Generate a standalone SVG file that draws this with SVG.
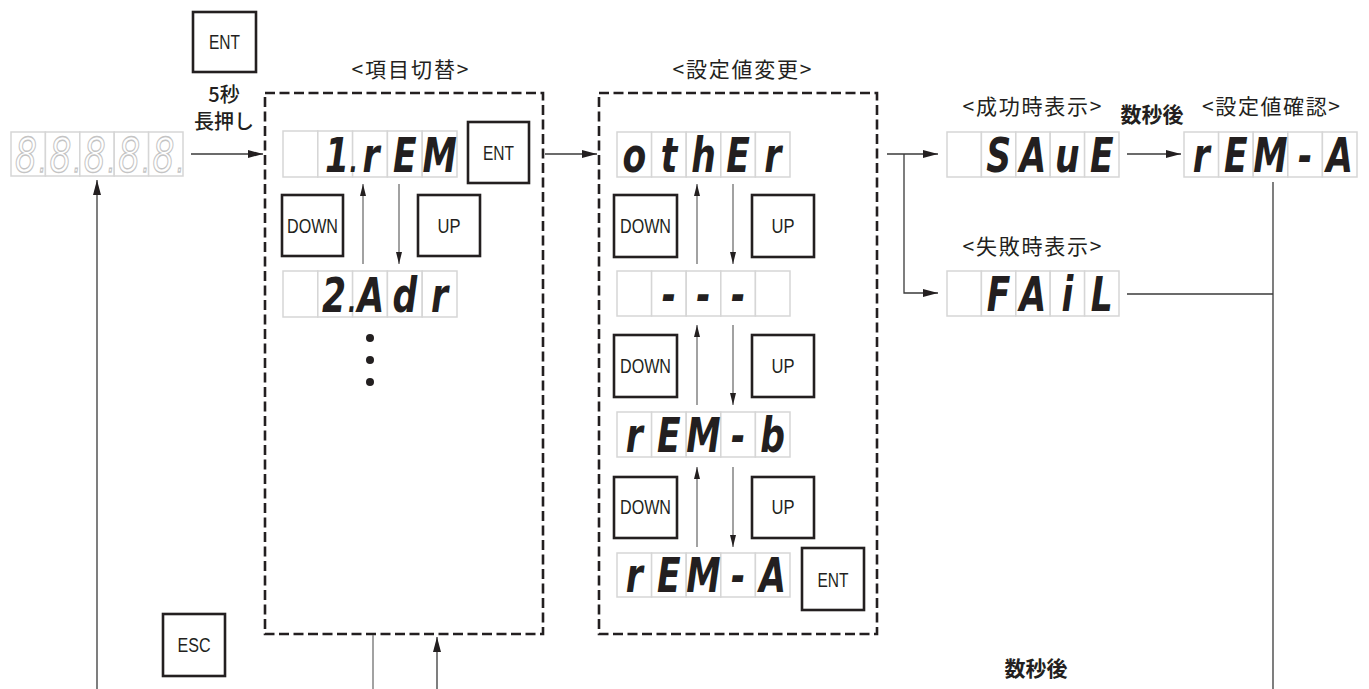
<svg xmlns="http://www.w3.org/2000/svg" width="1369" height="689" viewBox="0 0 1369 689">
<defs>
<style>
.cell{fill:#fff;stroke:#d6d6d6;stroke-width:1.5}
.seg{font-family:"DejaVu Sans",sans-serif;font-weight:bold;font-style:oblique;font-size:48px;fill:#231f20;text-anchor:middle}
.pt{font-size:30px}
.off{fill:#fff;stroke:#c4c4c4;stroke-width:1.3;font-weight:normal}
.key{fill:#fff;stroke:#231f20;stroke-width:2.6}
.kt{font-family:"Liberation Sans",Arial,sans-serif;font-size:20px;fill:#231f20;text-anchor:middle}
.jp{font-family:"Noto Sans CJK JP",sans-serif;font-size:21px;fill:#231f20;text-anchor:middle}
.jb{font-family:"Noto Sans CJK JP",sans-serif;font-size:21px;font-weight:bold;fill:#231f20;text-anchor:middle}
.frame{fill:none;stroke:#231f20;stroke-width:2.6;stroke-dasharray:10 4.5}
.ln{fill:none;stroke:#3a3a3a;stroke-width:1.3}
.gl{fill:none;stroke:#707070;stroke-width:1.3}
.dot{fill:#231f20}
</style>
<marker id="a" viewBox="0 0 15 8" markerWidth="15" markerHeight="8" refX="15" refY="4" orient="auto" markerUnits="userSpaceOnUse"><path d="M0,0L15,4L0,8z" fill="#231f20"/></marker>
<marker id="s" viewBox="0 0 12 6" markerWidth="12" markerHeight="6" refX="12" refY="3" orient="auto" markerUnits="userSpaceOnUse"><path d="M0,0L12,3L0,6z" fill="#231f20"/></marker>
</defs>
<rect width="1369" height="689" fill="#fff"/>

<!-- frames -->
<g id="frame-item">
<rect class="frame" x="265" y="93" width="278" height="541"/>
<text class="jp" x="410" y="77" textLength="117">&lt;項目切替&gt;</text>
</g>
<g id="frame-value">
<rect class="frame" x="599" y="93" width="278" height="541"/>
<text class="jp" x="742" y="77" textLength="139">&lt;設定値変更&gt;</text>
</g>

<!-- connectors -->
<g id="connectors">
<path class="ln" d="M191,154H263" marker-end="url(#a)"/>
<path class="ln" d="M545,154H597" marker-end="url(#a)"/>
<path class="ln" d="M887,154H938" marker-end="url(#a)"/>
<path class="ln" d="M904,154V293H938" marker-end="url(#a)"/>
<path class="ln" d="M1127,154H1181" marker-end="url(#a)"/>
<path class="ln" d="M1127,294H1273"/>
<path class="ln" d="M1273,182V689"/>
<path class="ln" d="M97,689V180" marker-end="url(#a)"/>
<path class="gl" d="M373,635V689"/>
<path class="ln" d="M437,689V637" marker-end="url(#a)"/>
<path class="gl" d="M363,264V184" marker-end="url(#s)"/>
<path class="gl" d="M399,184V264" marker-end="url(#s)"/>
<path class="gl" d="M697,264V184" marker-end="url(#s)"/>
<path class="gl" d="M733,184V264" marker-end="url(#s)"/>
<path class="gl" d="M697,405V325" marker-end="url(#s)"/>
<path class="gl" d="M733,325V405" marker-end="url(#s)"/>
<path class="gl" d="M697,547V467" marker-end="url(#s)"/>
<path class="gl" d="M733,467V547" marker-end="url(#s)"/>
</g>

<!-- keys -->
<g id="key-ent-start"><rect class="key" x="193" y="12" width="63" height="60"/><text class="kt" x="224.5" y="49" textLength="31" lengthAdjust="spacingAndGlyphs">ENT</text></g>
<g id="label-5sec"><text class="jp" x="224" y="102" style="font-weight:500;font-size:20px">5秒</text><text class="jp" x="224" y="129" style="font-weight:500;font-size:20px">長押し</text></g>
<g id="key-ent-1"><rect class="key" x="468" y="122" width="61" height="61"/><text class="kt" x="498.5" y="160" textLength="31" lengthAdjust="spacingAndGlyphs">ENT</text></g>
<g id="key-down-1"><rect class="key" x="282" y="195" width="61" height="61"/><text class="kt" x="312.5" y="233" textLength="51" lengthAdjust="spacingAndGlyphs">DOWN</text></g>
<g id="key-up-1"><rect class="key" x="418" y="195" width="62" height="61"/><text class="kt" x="449" y="233" textLength="23" lengthAdjust="spacingAndGlyphs">UP</text></g>
<g id="key-down-2"><rect class="key" x="614" y="195" width="63" height="62"/><text class="kt" x="645.5" y="233" textLength="51" lengthAdjust="spacingAndGlyphs">DOWN</text></g>
<g id="key-up-2"><rect class="key" x="752" y="195" width="62" height="62"/><text class="kt" x="783" y="233" textLength="23" lengthAdjust="spacingAndGlyphs">UP</text></g>
<g id="key-down-3"><rect class="key" x="614" y="335" width="63" height="62"/><text class="kt" x="645.5" y="373" textLength="51" lengthAdjust="spacingAndGlyphs">DOWN</text></g>
<g id="key-up-3"><rect class="key" x="752" y="335" width="62" height="62"/><text class="kt" x="783" y="373" textLength="23" lengthAdjust="spacingAndGlyphs">UP</text></g>
<g id="key-down-4"><rect class="key" x="614" y="477" width="63" height="61"/><text class="kt" x="645.5" y="514" textLength="51" lengthAdjust="spacingAndGlyphs">DOWN</text></g>
<g id="key-up-4"><rect class="key" x="752" y="477" width="62" height="61"/><text class="kt" x="783" y="514" textLength="23" lengthAdjust="spacingAndGlyphs">UP</text></g>
<g id="key-ent-2"><rect class="key" x="802" y="548" width="62" height="62"/><text class="kt" x="833" y="587" textLength="31" lengthAdjust="spacingAndGlyphs">ENT</text></g>
<g id="key-esc"><rect class="key" x="163" y="614" width="62" height="62"/><text class="kt" x="194" y="652" textLength="33" lengthAdjust="spacingAndGlyphs">ESC</text></g>

<!-- labels -->
<g id="label-success"><text class="jp" x="1032" y="114" textLength="139">&lt;成功時表示&gt;</text></g>
<g id="label-confirm"><text class="jp" x="1271" y="114" textLength="138">&lt;設定値確認&gt;</text></g>
<g id="label-after1"><text class="jb" x="1152" y="122" textLength="63">数秒後</text></g>
<g id="label-fail"><text class="jp" x="1032" y="254" textLength="139">&lt;失敗時表示&gt;</text></g>
<g id="label-after2"><text class="jb" x="1036" y="676" textLength="63">数秒後</text></g>

<!-- displays -->
<g id="disp-init">
<rect class="cell" x="11" y="132" width="34.4" height="44"/><rect class="cell" x="45.4" y="132" width="34.4" height="44"/><rect class="cell" x="79.8" y="132" width="34.4" height="44"/><rect class="cell" x="114.2" y="132" width="34.4" height="44"/><rect class="cell" x="148.6" y="132" width="34.4" height="44"/>
<text class="seg off" transform="translate(11,172) scale(0.72,1)"><tspan x="20.83">8</tspan><tspan class="pt" x="43.75">.</tspan><tspan x="68.61">8</tspan><tspan class="pt" x="91.53">.</tspan><tspan x="116.39">8</tspan><tspan class="pt" x="139.31">.</tspan><tspan x="164.17">8</tspan><tspan class="pt" x="187.08">.</tspan><tspan x="211.94">8</tspan><tspan class="pt" x="234.86">.</tspan></text>
</g>

<g id="disp-1rem">
<rect class="cell" x="283" y="131" width="34.8" height="46"/><rect class="cell" x="317.8" y="131" width="34.8" height="46"/><rect class="cell" x="352.6" y="131" width="34.8" height="46"/><rect class="cell" x="387.4" y="131" width="34.8" height="46"/><rect class="cell" x="422.2" y="131" width="34.8" height="46"/>
<text class="seg" transform="translate(283,172) scale(0.72,1)"><tspan x="75">1</tspan><tspan class="pt" x="97.92">.</tspan><tspan x="122.22">r</tspan><tspan x="169.17">E</tspan><tspan x="217.5">M</tspan></text>
</g>

<g id="disp-2adr">
<rect class="cell" x="283" y="271" width="34.8" height="46"/><rect class="cell" x="317.8" y="271" width="34.8" height="46"/><rect class="cell" x="352.6" y="271" width="34.8" height="46"/><rect class="cell" x="387.4" y="271" width="34.8" height="46"/><rect class="cell" x="422.2" y="271" width="34.8" height="46"/>
<text class="seg" transform="translate(283,312) scale(0.72,1)"><tspan x="70.83">2</tspan><tspan class="pt" x="95.83">.</tspan><tspan x="122.22">A</tspan><tspan x="169.17">d</tspan><tspan x="217.5">r</tspan></text>
</g>
<g id="ellipsis"><circle class="dot" cx="370" cy="338" r="4"/><circle class="dot" cx="370" cy="360" r="4"/><circle class="dot" cx="370" cy="382" r="4"/></g>

<g id="disp-other">
<rect class="cell" x="617" y="132" width="34.6" height="45"/><rect class="cell" x="651.6" y="132" width="34.6" height="45"/><rect class="cell" x="686.2" y="132" width="34.6" height="45"/><rect class="cell" x="720.8" y="132" width="34.6" height="45"/><rect class="cell" x="755.4" y="132" width="34.6" height="45"/>
<text class="seg" transform="translate(617,172) scale(0.72,1)"><tspan x="24.03">o</tspan><tspan x="72.08">t</tspan><tspan x="120.14">h</tspan><tspan x="168.19">E</tspan><tspan x="216.25">r</tspan></text>
</g>

<g id="disp-dash">
<rect class="cell" x="617" y="271" width="34.6" height="45"/><rect class="cell" x="651.6" y="271" width="34.6" height="45"/><rect class="cell" x="686.2" y="271" width="34.6" height="45"/><rect class="cell" x="720.8" y="271" width="34.6" height="45"/><rect class="cell" x="755.4" y="271" width="34.6" height="45"/>
<text class="seg" transform="translate(617,311) scale(0.72,1)"><tspan x="72.08">-</tspan><tspan x="120.14">-</tspan><tspan x="168.19">-</tspan></text>
</g>

<g id="disp-remb">
<rect class="cell" x="617" y="412" width="34.6" height="45"/><rect class="cell" x="651.6" y="412" width="34.6" height="45"/><rect class="cell" x="686.2" y="412" width="34.6" height="45"/><rect class="cell" x="720.8" y="412" width="34.6" height="45"/><rect class="cell" x="755.4" y="412" width="34.6" height="45"/>
<text class="seg" transform="translate(617,452) scale(0.72,1)"><tspan x="24.03">r</tspan><tspan x="72.08">E</tspan><tspan x="120.14">M</tspan><tspan x="168.19">-</tspan><tspan x="216.25">b</tspan></text>
</g>

<g id="disp-rema">
<rect class="cell" x="617" y="553" width="34.6" height="44"/><rect class="cell" x="651.6" y="553" width="34.6" height="44"/><rect class="cell" x="686.2" y="553" width="34.6" height="44"/><rect class="cell" x="720.8" y="553" width="34.6" height="44"/><rect class="cell" x="755.4" y="553" width="34.6" height="44"/>
<text class="seg" transform="translate(617,592) scale(0.72,1)"><tspan x="24.03">r</tspan><tspan x="72.08">E</tspan><tspan x="120.14">M</tspan><tspan x="168.19">-</tspan><tspan x="216.25">A</tspan></text>
</g>

<g id="disp-save">
<rect class="cell" x="947" y="132" width="34.4" height="45"/><rect class="cell" x="981.4" y="132" width="34.4" height="45"/><rect class="cell" x="1015.8" y="132" width="34.4" height="45"/><rect class="cell" x="1050.2" y="132" width="34.4" height="45"/><rect class="cell" x="1084.6" y="132" width="34.4" height="45"/>
<text class="seg" transform="translate(947,172) scale(0.72,1)"><tspan x="71.67">S</tspan><tspan x="119.44">A</tspan><tspan x="167.22">u</tspan><tspan x="215">E</tspan></text>
</g>

<g id="disp-confirm">
<rect class="cell" x="1184" y="132" width="34.6" height="45"/><rect class="cell" x="1218.6" y="132" width="34.6" height="45"/><rect class="cell" x="1253.2" y="132" width="34.6" height="45"/><rect class="cell" x="1287.8" y="132" width="34.6" height="45"/><rect class="cell" x="1322.4" y="132" width="34.6" height="45"/>
<text class="seg" transform="translate(1184,172) scale(0.72,1)"><tspan x="24.03">r</tspan><tspan x="72.08">E</tspan><tspan x="120.14">M</tspan><tspan x="168.19">-</tspan><tspan x="216.25">A</tspan></text>
</g>

<g id="disp-fail">
<rect class="cell" x="947" y="271" width="34.4" height="45"/><rect class="cell" x="981.4" y="271" width="34.4" height="45"/><rect class="cell" x="1015.8" y="271" width="34.4" height="45"/><rect class="cell" x="1050.2" y="271" width="34.4" height="45"/><rect class="cell" x="1084.6" y="271" width="34.4" height="45"/>
<text class="seg" transform="translate(947,311) scale(0.72,1)"><tspan x="71.67">F</tspan><tspan x="119.44">A</tspan><tspan x="167.22">i</tspan><tspan x="215">L</tspan></text>
</g>
</svg>
